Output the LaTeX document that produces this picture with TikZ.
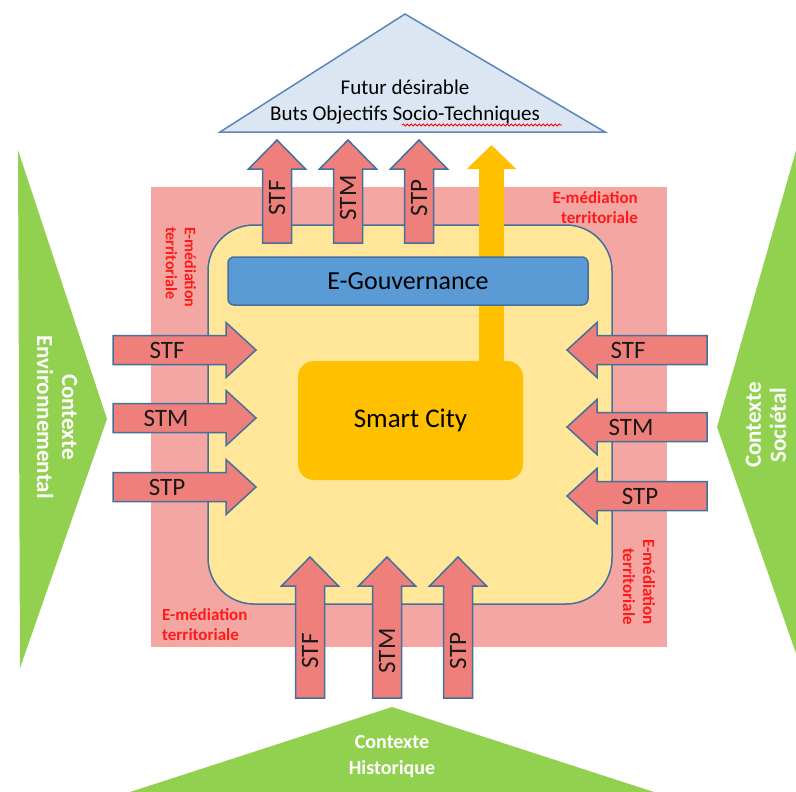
\documentclass[tikz,border=0pt]{standalone}
\usepackage{fontspec}
\setmainfont{Carlito}
\usetikzlibrary{arrows.meta, decorations.pathmorphing}
\definecolor{ContextGreen}{HTML}{92D050}
\definecolor{MediationPink}{HTML}{F4A6A3}
\definecolor{FlowRed}{HTML}{EE7F7A}
\definecolor{EdgeBlue}{HTML}{41719C}
\definecolor{CityCream}{HTML}{FFE699}
\definecolor{CityGold}{HTML}{FFC000}
\definecolor{GovBlue}{HTML}{5B9BD5}
\definecolor{FutureBlue}{HTML}{DCE6F2}
\definecolor{FutureEdge}{HTML}{5A86BA}
\definecolor{MediationRed}{HTML}{FF1A1A}
% arrow flows: name, label, position, tail, tip, label position
\newcommand{\flowup}[6]{
    \draw[flowarrow] ({#3-14.5},#4) -- ({#3-14.5},{#5+29}) -- ({#3-28.5},{#5+29}) -- (#3,#5)
        -- ({#3+28.5},{#5+29}) -- ({#3+14.5},{#5+29}) -- ({#3+14.5},#4) -- cycle;
    \node[flowlabel, rotate=90] (#1) at (#3,#6) {#2};
}
\newcommand{\flowright}[6]{
    \draw[flowarrow] (#4,{#3-14.5}) -- ({#5-30},{#3-14.5}) -- ({#5-30},{#3-27.5}) -- (#5,#3)
        -- ({#5-30},{#3+27.5}) -- ({#5-30},{#3+14.5}) -- (#4,{#3+14.5}) -- cycle;
    \node[flowlabel] (#1) at (#6,#3) {#2};
}
\newcommand{\flowleft}[6]{
    \draw[flowarrow] (#4,{#3-14.5}) -- ({#5+30},{#3-14.5}) -- ({#5+30},{#3-27.5}) -- (#5,#3)
        -- ({#5+30},{#3+27.5}) -- ({#5+30},{#3+14.5}) -- (#4,{#3+14.5}) -- cycle;
    \node[flowlabel] (#1) at (#6,#3) {#2};
}

\begin{document}
\begin{tikzpicture}[x=1pt, y=-1pt,
        flowarrow/.style={fill=FlowRed, draw=EdgeBlue, line width=1.5pt, line join=miter},
        flowlabel/.style={inner sep=0pt, text=black!90, font=\fontsize{25}{30}\selectfont},
        contexte/.style={inner sep=0pt, text=white, align=center, font=\bfseries\fontsize{23}{25}\selectfont},
        mediation/.style={inner sep=0pt, text=MediationRed, font=\bfseries\fontsize{17}{20}\selectfont}]
    \useasboundingbox (0,0) rectangle (796,792);
    \clip (0,0) rectangle (796,792);

    % Contextes
    \fill[ContextGreen] (18,150) -- (107,419) -- (20,668) -- cycle;
    \fill[ContextGreen] (717,427) -- (799,140) -- (799,662) -- cycle;
    \fill[ContextGreen] (392,707) -- (127,793) -- (657,793) -- cycle;
    \node[contexte, rotate=-90] (envir) at (57,417) {Contexte\\Environnemental};
    \node[contexte, rotate=90] (societ) at (766,425) {Contexte\\Sociétal};
    \node[contexte, font=\bfseries\fontsize{20}{26}\selectfont] (histo) at (392,757) {Contexte\\Historique};

    % E-mediation territoriale
    \fill[MediationPink] (151,187) rectangle (667,647);
    \node[mediation, align=right, anchor=east] (medtop) at (638,208) {E-médiation\\territoriale};
    \node[mediation, align=left, anchor=west, rotate=-90, font=\bfseries\fontsize{16}{19}\selectfont] (medleft) at (181,227) {E-médiation\\territoriale};
    \node[mediation, align=left, anchor=west] (medbottom) at (162,625) {E-médiation\\territoriale};
    \node[mediation, align=right, anchor=east, rotate=-90] (medright) at (639,625) {E-médiation\\territoriale};

    % Smart city area
    \draw[fill=CityCream, draw=EdgeBlue, line width=1.5pt, rounded corners=46pt] (208,225) rectangle (612,604);
    \node[fill=CityGold, rounded corners=16pt, minimum width=225pt, minimum height=119pt,
        font=\fontsize{27}{30}\selectfont] (smart) at (410.5,420.5) {Smart City};
    \coordinate (goaltip) at (491.5,145);
    \draw[CityGold, line width=25pt, -{Triangle[length=24pt, width=48pt]}] (smart.north -| goaltip) -- (goaltip);
    \node[fill=GovBlue, draw=EdgeBlue, line width=1.5pt, rounded corners=6pt, minimum width=360pt, minimum height=48pt,
        font=\fontsize{26}{30}\selectfont] (egouv) at (408,281) {E-Gouvernance};

    % Futur desirable
    \draw[fill=FutureBlue, draw=FutureEdge, line width=1.5pt, line join=miter] (405,14) -- (605,132) -- (220,132) -- cycle;
    \node[inner sep=0pt, align=center, font=\fontsize{21}{26}\selectfont] (futur) at (405,102) {Futur désirable\\Buts Objectifs Socio-Techniques};
    \draw[red, line width=0.8pt, decorate, decoration={snake, segment length=4pt, amplitude=1pt}] (402,125) -- (562,125);

    % STF / STM / STP flows
    \flowup{topf}{STF}{277}{243}{140}{198}
    \flowup{topm}{STM}{348}{243}{140}{198}
    \flowup{topp}{STP}{419}{243}{140}{198}
    \flowup{botf}{STF}{310}{698}{557}{651}
    \flowup{botm}{STM}{387}{698}{557}{651}
    \flowup{botp}{STP}{458}{698}{557}{651}
    \flowright{leftf}{STF}{350}{113}{256}{167}
    \flowright{leftm}{STM}{418}{113}{256}{166}
    \flowright{leftp}{STP}{487}{113}{256}{167}
    \flowleft{rightf}{STF}{350}{707}{567}{628}
    \flowleft{rightm}{STM}{427}{707}{567}{631}
    \flowleft{rightp}{STP}{496}{707}{567}{640}
\end{tikzpicture}
\end{document}
